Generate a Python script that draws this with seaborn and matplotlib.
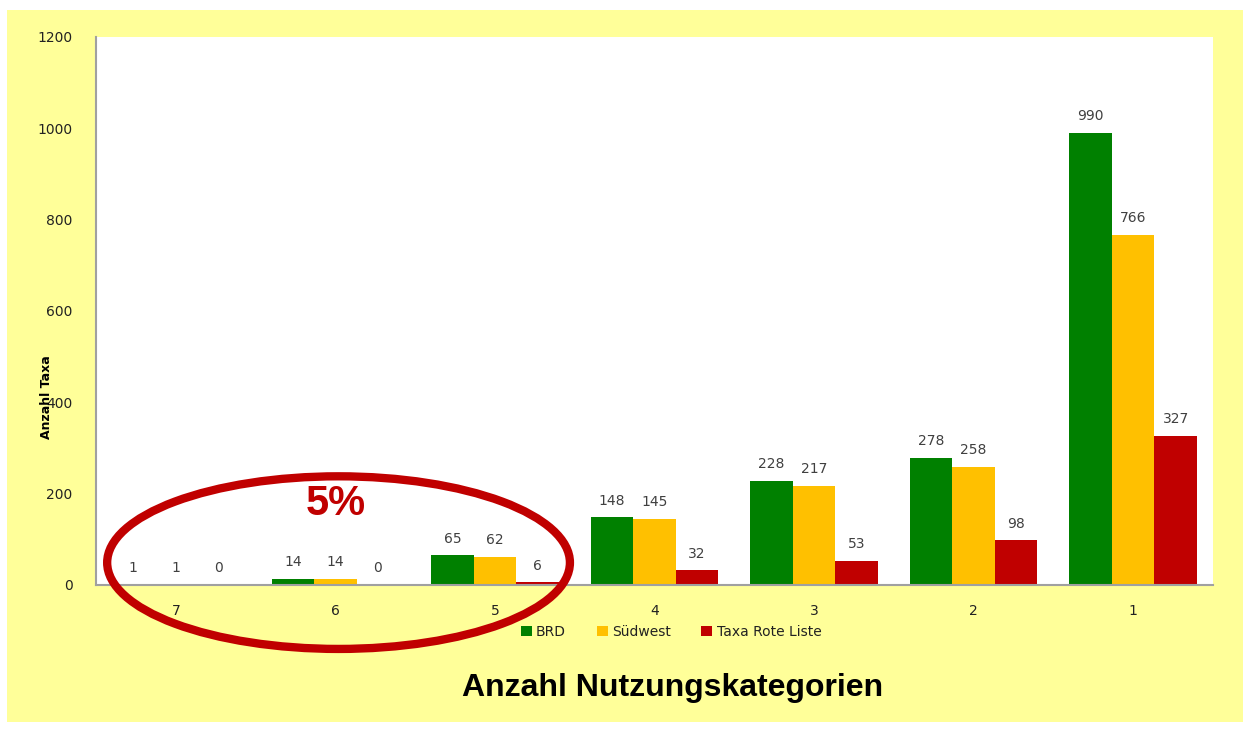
import matplotlib.pyplot as plt
import pandas as pd
import seaborn as sns
from matplotlib.patches import Ellipse, Rectangle

# values
categories = ["7", "6", "5", "4", "3", "2", "1"]
brd = [1, 14, 65, 148, 228, 278, 990]
suedwest = [1, 14, 62, 145, 217, 258, 766]
rote_liste = [0, 0, 6, 32, 53, 98, 327]
series_names = ["BRD", "Südwest", "Taxa Rote Liste"]
y_ticks = [0, 200, 400, 600, 800, 1000, 1200]

GREEN = "#008000"
YELLOW = "#FFC000"
RED = "#C00000"
BG = "#FFFF99"

df = pd.DataFrame(
    {
        "Kategorie": categories * 3,
        "Serie": [s for s in series_names for _ in categories],
        "Anzahl": brd + suedwest + rote_liste,
    }
)

sns.set_theme(style="white")
plt.rcParams["font.family"] = ["DejaVu Sans"]

fig = plt.figure(figsize=(12.51, 7.31), dpi=100, facecolor="white")
# pale yellow slide background with a thin white border
fig.patches.append(
    Rectangle((7 / 1251, 9 / 731), 1236 / 1251, 712 / 731,
              transform=fig.transFigure, facecolor=BG, edgecolor="none", zorder=-10)
)
ax = fig.add_axes([96 / 1251, 1 - 585 / 731, 1117 / 1251, 548 / 731])
ax.set_zorder(1)
ax.set_facecolor("white")

sns.barplot(
    data=df, x="Kategorie", y="Anzahl", hue="Serie",
    order=categories, hue_order=series_names,
    palette=[GREEN, YELLOW, RED], width=0.8, saturation=1,
    linewidth=0, ax=ax,
)

for cont, vals in zip(ax.containers, [brd, suedwest, rote_liste]):
    ax.bar_label(cont, labels=[str(v) for v in vals], padding=7,
                 fontsize=10, color="#404040")

ax.set_ylim(0, 1200)
ax.set_yticks(y_ticks)
ax.tick_params(axis="both", length=0, labelsize=10, labelcolor="#222222")
ax.tick_params(axis="y", pad=17)
ax.tick_params(axis="x", pad=14)
for side in ["top", "right"]:
    ax.spines[side].set_visible(False)
for side in ["left", "bottom"]:
    ax.spines[side].set_color("#a0a0a0")
    ax.spines[side].set_linewidth(1.5)
ax.set_xlabel("")
ax.set_ylabel("")

fig.text(47 / 1251, 1 - 397 / 731, "Anzahl Taxa", rotation=90, ha="center",
         va="center", fontsize=9, fontweight="bold", color="black", zorder=5)
fig.text(673 / 1251, 1 - 688 / 731, "Anzahl Nutzungskategorien", ha="center",
         va="center", fontsize=23, fontweight="bold", color="black",
         family=["Liberation Sans", "DejaVu Sans"])

sns.move_legend(
    ax, loc="center", bbox_to_anchor=(671 / 1251, 1 - 632 / 731),
    bbox_transform=fig.transFigure, ncol=3, frameon=False, title=None,
    fontsize=10, handlelength=0.8, handleheight=0.8, handletextpad=0.3,
    columnspacing=2.2,
)
for t in ax.get_legend().get_texts():
    t.set_color("#222222")

# red ring marking the rare categories
ax.add_patch(
    Ellipse((1.02, 49), 2.9, 378, angle=0, fill=False, edgecolor=RED,
            linewidth=6, clip_on=False, zorder=5)
)
ax.text(1.0, 178, "5%", ha="center", va="center", fontsize=30,
        fontweight="bold", color=RED, family=["Liberation Sans", "DejaVu Sans"])

fig.savefig("out.png", dpi=100, facecolor="white")
